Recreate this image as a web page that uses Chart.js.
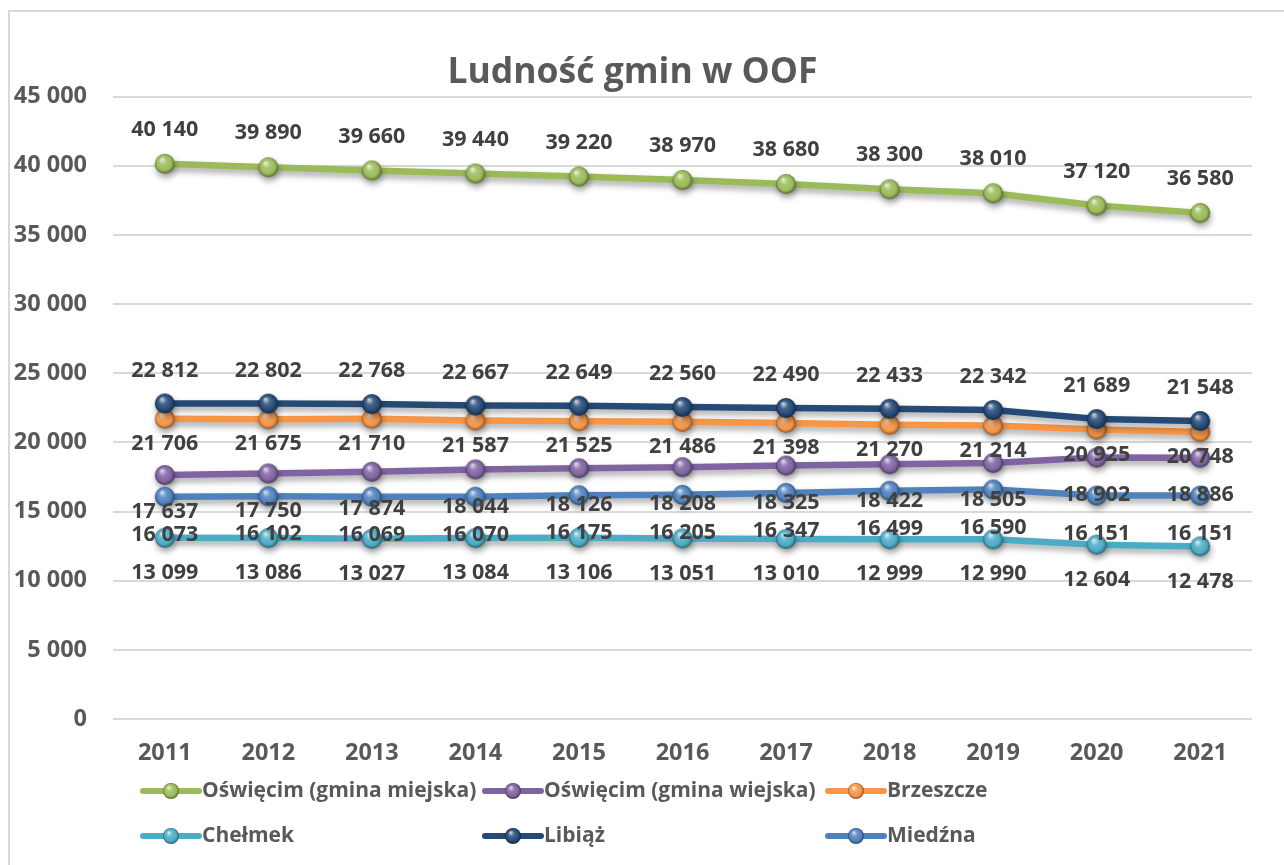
<!DOCTYPE html>
<html>

<head>
    <title>Ludność gmin w OOF</title>
    <meta charset="UTF-8">
    <script src="https://cdn.jsdelivr.net/npm/chart.js"></script>
    <style>
        body {
            margin: 0;
            background-color: #ffffff;
            font-family: 'Open Sans', sans-serif;
        }

        .frame {
            position: absolute;
            left: 8px;
            top: 10px;
            width: 1300px;
            height: 900px;
            border-top: 2px solid #d9d9d9;
            border-left: 2px solid #d9d9d9;
        }

        #chart {
            position: absolute;
            left: 0;
            top: 0;
        }
    </style>
</head>

<body>
    <div class="frame"></div>
    <canvas id="chart" width="1284" height="865"></canvas>

    <script>
        // data
        var years = ['2011', '2012', '2013', '2014', '2015', '2016', '2017', '2018', '2019', '2020', '2021'];
        var oswiecimMiejska = [40140, 39890, 39660, 39440, 39220, 38970, 38680, 38300, 38010, 37120, 36580];
        var oswiecimWiejska = [17637, 17750, 17874, 18044, 18126, 18208, 18325, 18422, 18505, 18902, 18886];
        var brzeszcze = [21706, 21675, 21710, 21587, 21525, 21486, 21398, 21270, 21214, 20925, 20748];
        var chelmek = [13099, 13086, 13027, 13084, 13106, 13051, 13010, 12999, 12990, 12604, 12478];
        var libiaz = [22812, 22802, 22768, 22667, 22649, 22560, 22490, 22433, 22342, 21689, 21548];
        var miedzna = [16073, 16102, 16069, 16070, 16175, 16205, 16347, 16499, 16590, 16151, 16151];

        var seriesNames = ['Oświęcim (gmina miejska)', 'Oświęcim (gmina wiejska)', 'Brzeszcze', 'Chełmek', 'Libiąż', 'Miedźna'];
        var seriesColors = ['#9bbb59', '#8064a2', '#f79646', '#4bacc6', '#254a76', '#4f81bd'];
        var labelOffsets = [-34, 37, 25, 35, -33, 38]; // where excel put the value labels

        function fmt(v) {
            return String(v).replace(/\B(?=(\d{3})+(?!\d))/g, ' ');
        }

        function mix(hex, target, t) {
            var r = parseInt(hex.substr(1, 2), 16), g = parseInt(hex.substr(3, 2), 16), b = parseInt(hex.substr(5, 2), 16);
            r = Math.round(r + (target - r) * t);
            g = Math.round(g + (target - g) * t);
            b = Math.round(b + (target - b) * t);
            return 'rgb(' + r + ',' + g + ',' + b + ')';
        }

        // little shaded ball used as the point marker
        function sphere(color, r) {
            var c = document.createElement('canvas');
            c.width = c.height = 2 * r + 2;
            var x = c.getContext('2d');
            var cx = r + 1, cy = r + 1;
            var g = x.createRadialGradient(cx - r * 0.3, cy - r * 0.45, r * 0.05, cx, cy, r);
            g.addColorStop(0, mix(color, 255, 0.75));
            g.addColorStop(0.35, mix(color, 255, 0.15));
            g.addColorStop(0.75, color);
            g.addColorStop(1, mix(color, 0, 0.45));
            x.fillStyle = g;
            x.beginPath();
            x.arc(cx, cy, r, 0, Math.PI * 2);
            x.fill();
            return c;
        }

        var allData = [oswiecimMiejska, oswiecimWiejska, brzeszcze, chelmek, libiaz, miedzna];
        var balls = seriesColors.map(function (c) { return sphere(c, 10); });
        var legendBalls = seriesColors.map(function (c) { return sphere(c, 8); });

        var datasets = allData.map(function (d, i) {
            return {
                label: seriesNames[i],
                data: d,
                borderColor: seriesColors[i],
                backgroundColor: seriesColors[i],
                borderWidth: 6.5,
                pointStyle: balls[i],
                pointRadius: 10,
                tension: 0,
                order: 5 - i
            };
        });

        var shadowPlugin = {
            id: 'lineShadow',
            beforeDatasetDraw: function (chart) {
                var ctx = chart.ctx;
                ctx.save();
                ctx.shadowColor = 'rgba(0,0,0,0.35)';
                ctx.shadowBlur = 6;
                ctx.shadowOffsetX = 1;
                ctx.shadowOffsetY = 4;
            },
            afterDatasetDraw: function (chart) {
                chart.ctx.restore();
            }
        };

        var valueLabels = {
            id: 'valueLabels',
            afterDatasetsDraw: function (chart) {
                var ctx = chart.ctx;
                ctx.save();
                ctx.font = 'bold 21.5px "Open Sans"';
                ctx.fillStyle = '#404040';
                ctx.textAlign = 'center';
                ctx.textBaseline = 'middle';
                chart.data.datasets.forEach(function (ds, i) {
                    var meta = chart.getDatasetMeta(i);
                    meta.data.forEach(function (pt, j) {
                        ctx.fillText(fmt(ds.data[j]), pt.x, pt.y + labelOffsets[i]);
                    });
                });
                ctx.restore();
            }
        };

        // excel-like legend: 3 columns, 2 rows under the axis
        var gridLegend = {
            id: 'gridLegend',
            afterDraw: function (chart) {
                var ctx = chart.ctx;
                var cols = [143, 485, 828];
                var rows = [791, 836];
                ctx.save();
                ctx.font = 'bold 21px "Open Sans"';
                ctx.textBaseline = 'middle';
                chart.data.datasets.forEach(function (ds, i) {
                    var x = cols[i % 3], y = rows[Math.floor(i / 3)];
                    ctx.strokeStyle = ds.borderColor;
                    ctx.lineWidth = 6;
                    ctx.lineCap = 'round';
                    ctx.beginPath();
                    ctx.moveTo(x, y);
                    ctx.lineTo(x + 56, y);
                    ctx.stroke();
                    ctx.drawImage(legendBalls[i], x + 28 - 9, y - 9);
                    ctx.fillStyle = '#595959';
                    ctx.fillText(ds.label, x + 59, y);
                });
                ctx.restore();
            }
        };

        var chart = new Chart(document.getElementById('chart'), {
            type: 'line',
            data: {
                labels: years,
                datasets: datasets
            },
            plugins: [shadowPlugin, valueLabels, gridLegend],
            options: {
                responsive: false,
                animation: false,
                devicePixelRatio: 1,
                layout: {
                    padding: { left: 13, right: 32, top: 0, bottom: 101 }
                },
                plugins: {
                    legend: { display: false },
                    tooltip: { enabled: false },
                    title: {
                        display: true,
                        text: 'Ludność gmin w OOF',
                        color: '#595959',
                        font: { family: 'Open Sans', size: 35.5, weight: 'bold' },
                        padding: { top: 52, bottom: 2 }
                    }
                },
                scales: {
                    x: {
                        offset: true,
                        grid: { display: false, drawTicks: false },
                        border: { display: false },
                        ticks: {
                            color: '#595959',
                            font: { family: 'Open Sans', size: 23.5, weight: 'bold' },
                            padding: 20,
                            maxRotation: 0
                        },
                        afterFit: function (s) { s.height = 45; }
                    },
                    y: {
                        min: 0,
                        max: 45000,
                        border: { display: false },
                        grid: { color: '#d9d9d9', lineWidth: 2, drawTicks: false },
                        ticks: {
                            stepSize: 5000,
                            color: '#595959',
                            font: { family: 'Open Sans', size: 23.5, weight: 'bold' },
                            padding: 26,
                            callback: function (v) { return fmt(v); }
                        },
                        afterFit: function (s) { s.width = 100; }
                    }
                }
            }
        });
    </script>
</body>

</html>
